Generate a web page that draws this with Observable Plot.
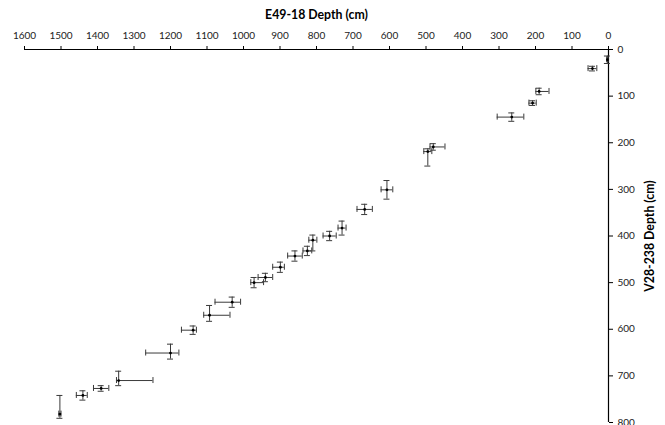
<!DOCTYPE html>
<html>
<head>
<meta charset="utf-8">
<script src="https://cdn.jsdelivr.net/npm/d3@7"></script>
<script src="https://cdn.jsdelivr.net/npm/@observablehq/plot@0.6"></script>
<style>
  html, body { margin: 0; padding: 0; background: #fff; }
  #chart { width: 665px; height: 425px; overflow: hidden; }
</style>
</head>
<body>
<div id="chart"></div>
<script>
// E49-18 depth (x) vs V28-238 depth (y), cm
const e49Depth    = [3, 44, 190, 208, 265, 480, 495, 607, 668, 730, 764, 810, 825, 859, 899, 940, 971, 1031, 1093, 1138, 1200, 1342, 1390, 1440, 1503];
const e49ErrLow   = [2, 12, 27, 10, 33, 32, 11, 16, 21, 11, 18, 11, 12, 20, 11, 20, 26, 23, 56, 9, 23, 94, 21, 12, 3];
const e49ErrHigh  = [2, 12, 9, 10, 40, 9, 11, 16, 21, 11, 18, 11, 12, 20, 21, 20, 9, 47, 16, 32, 68, 6, 21, 18, 3];
const v28Depth    = [22, 41, 90, 115, 145, 209, 219, 301, 343, 383, 400, 409, 432, 443, 467, 489, 500, 542, 570, 602, 651, 710, 727, 742, 782];
const v28ErrLow   = [8, 5, 7, 5, 9, 7, 6, 20, 11, 15, 10, 11, 10, 11, 11, 9, 11, 11, 21, 9, 19, 20, 6, 10, 40];
const v28ErrHigh  = [8, 5, 7, 5, 9, 7, 31, 20, 11, 15, 10, 23, 10, 11, 11, 9, 11, 11, 13, 9, 13, 11, 6, 10, 9];
const xTicks = [0, 100, 200, 300, 400, 500, 600, 700, 800, 900, 1000, 1100, 1200, 1300, 1400, 1500, 1600];
const yTicks = [0, 100, 200, 300, 400, 500, 600, 700, 800];
const xTitle = "E49-18 Depth (cm)";
const yTitle = "V28-238 Depth (cm)";

const rows = e49Depth.map((x, i) => ({
  x, y: v28Depth[i],
  xlo: x - e49ErrLow[i], xhi: x + e49ErrHigh[i],
  ylo: v28Depth[i] - v28ErrLow[i], yhi: v28Depth[i] + v28ErrHigh[i]
}));

const barColor = "#3a3a3a";
const chart = Plot.plot({
  width: 665,
  height: 425,
  marginTop: 49,
  marginRight: 57,
  marginBottom: 3,
  marginLeft: 24,
  style: { fontFamily: "Lato, 'Open Sans', sans-serif", fontSize: "10px", color: "#222", background: "#fff", overflow: "visible" },
  x: { domain: [0, 1600], reverse: true, axis: null },
  y: { domain: [0, 800], reverse: true, axis: null },
  marks: [
    Plot.axisX({ anchor: "top", ticks: xTicks, tickSize: 4, tickPadding: 7, label: null, tickFormat: d => String(d), fontSize: 10, stroke: "#000" }),
    Plot.axisY({ anchor: "right", ticks: yTicks, tickSize: 4, tickPadding: 5, label: null, tickFormat: d => String(d), fontSize: 10, stroke: "#000" }),
    Plot.ruleY([0], { stroke: "#000", strokeWidth: 1.2 }),
    Plot.ruleX([0], { stroke: "#000", strokeWidth: 1.2 }),
    // horizontal error bars + caps
    Plot.ruleY(rows, { y: "y", x1: "xlo", x2: "xhi", stroke: barColor, strokeWidth: 1 }),
    Plot.ruleX(rows, { x: "xlo", y1: "y", y2: "y", insetTop: -3, insetBottom: -3, stroke: barColor, strokeWidth: 1 }),
    Plot.ruleX(rows, { x: "xhi", y1: "y", y2: "y", insetTop: -3, insetBottom: -3, stroke: barColor, strokeWidth: 1 }),
    // vertical error bars + caps
    Plot.ruleX(rows, { x: "x", y1: "ylo", y2: "yhi", stroke: barColor, strokeWidth: 1 }),
    Plot.ruleY(rows, { y: "ylo", x1: "x", x2: "x", insetLeft: -3, insetRight: -3, stroke: barColor, strokeWidth: 1 }),
    Plot.ruleY(rows, { y: "yhi", x1: "x", x2: "x", insetLeft: -3, insetRight: -3, stroke: barColor, strokeWidth: 1 }),
    Plot.dot(rows, { x: "x", y: "y", r: 1.4, fill: "#000", stroke: null }),
    Plot.text([xTitle], { frameAnchor: "top", dy: -39, fontWeight: "bold", fontSize: 12.3, fill: "#000" }),
    Plot.text([yTitle], { frameAnchor: "right", dx: 42, rotate: -90, textAnchor: "middle", fontWeight: "bold", fontSize: 12.3, fill: "#000" })
  ]
});
document.getElementById("chart").appendChild(chart);
</script>
</body>
</html>
